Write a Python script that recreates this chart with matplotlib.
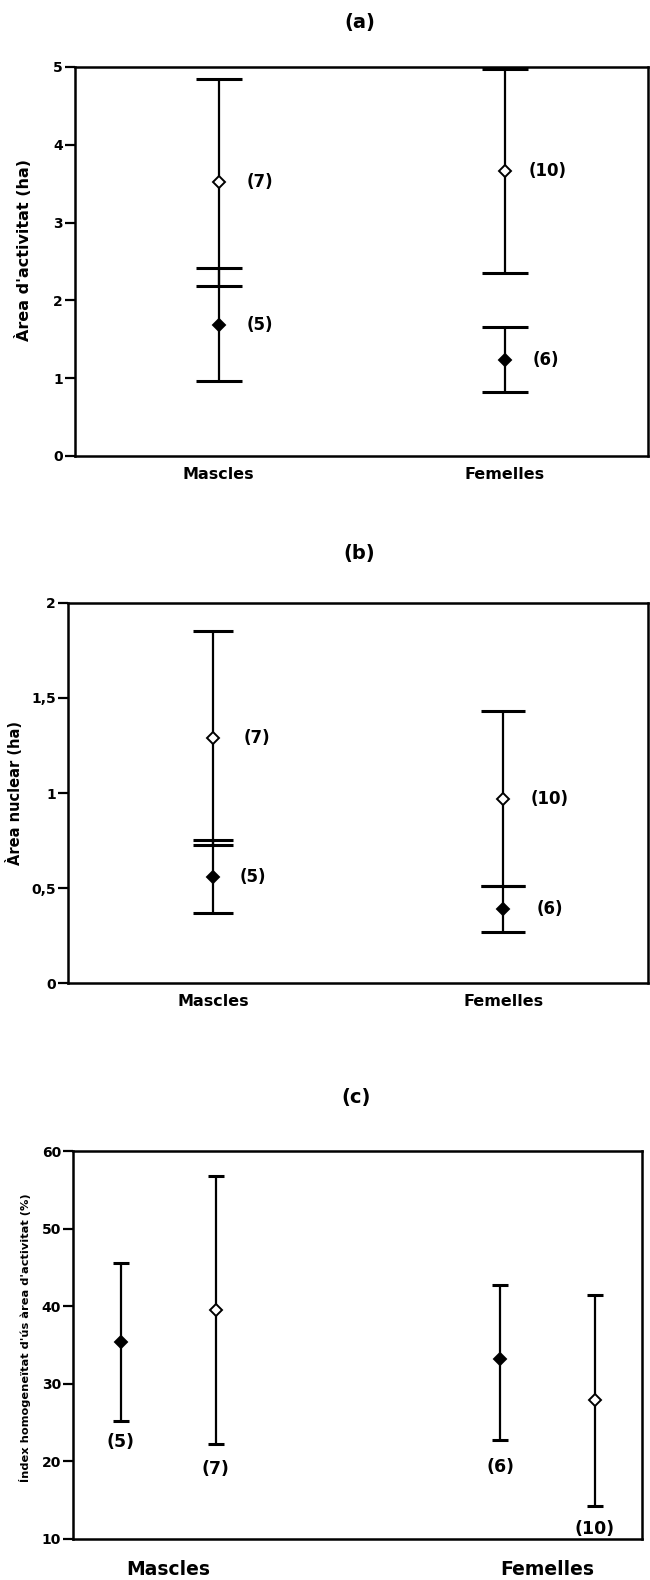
import matplotlib
matplotlib.use("Agg")
import matplotlib.pyplot as plt

plt.rcParams["font.family"] = ["DejaVu Sans"]
plt.rcParams["font.weight"] = "bold"

# (a) Àrea d'activitat (ha): per group, two series (open and filled diamonds)
a_groups = ["Mascles", "Femelles"]
a_open_mean = [3.52, 3.66]
a_open_lo = [2.18, 2.35]
a_open_hi = [4.85, 4.97]
a_open_n = ["(7)", "(10)"]
a_fill_mean = [1.68, 1.24]
a_fill_lo = [0.96, 0.82]
a_fill_hi = [2.42, 1.66]
a_fill_n = ["(5)", "(6)"]

# (b) Àrea nuclear (ha)
b_open_mean = [1.29, 0.97]
b_open_lo = [0.725, 0.51]
b_open_hi = [1.85, 1.43]
b_open_n = ["(7)", "(10)"]
b_fill_mean = [0.56, 0.39]
b_fill_lo = [0.37, 0.27]
b_fill_hi = [0.755, 0.51]
b_fill_n = ["(5)", "(6)"]

# (c) Index homogeneitat (%): Mascles filled, Mascles open, Femelles filled, Femelles open
c_mean = [35.4, 39.5, 33.2, 27.9]
c_lo = [25.2, 22.2, 22.7, 14.3]
c_hi = [45.6, 56.8, 42.7, 41.4]
c_filled = [True, False, True, False]
c_n = ["(5)", "(7)", "(6)", "(10)"]
c_label_y = [22.5, 19.0, 19.3, 11.3]

LW = 1.6


def style_axes(ax):
    for s in ax.spines.values():
        s.set_linewidth(1.8)
    ax.tick_params(axis="y", direction="out", length=7, width=1.6,
                   labelsize=10, pad=2)
    ax.tick_params(axis="x", length=0)
    for lab in ax.get_yticklabels() + ax.get_xticklabels():
        lab.set_fontweight("bold")


def draw_bar(ax, x, mean, lo, hi, filled, capsize):
    ax.errorbar([x], [mean], yerr=[[mean - lo], [hi - mean]], fmt="none",
                ecolor="black", elinewidth=LW, capsize=capsize, capthick=2.2,
                zorder=2)
    ax.plot([x], [mean], marker="D", markersize=6.5,
            markerfacecolor="black" if filled else "white",
            markeredgecolor="black", markeredgewidth=1.4, zorder=3)


def label(ax, text, x, y, dx):
    ax.annotate(text, (x, y), xytext=(dx, 0), textcoords="offset points",
                va="center", fontsize=12, fontweight="bold")


fig = plt.figure(figsize=(6.5, 15.8), dpi=100)
xs = [1, 3]

# ---- panel (a)
ax = fig.add_axes([0.116, 0.7114, 0.881, 0.2462])
off_open = [20, 17]
off_fill = [20, 20]
caps = [16.5, 16.5]
for i, x in enumerate(xs):
    draw_bar(ax, x, a_open_mean[i], a_open_lo[i], a_open_hi[i], False, caps[i])
    draw_bar(ax, x, a_fill_mean[i], a_fill_lo[i], a_fill_hi[i], True, caps[i])
    label(ax, a_open_n[i], x, a_open_mean[i], off_open[i])
    label(ax, a_fill_n[i], x, a_fill_mean[i], off_fill[i])
ax.set_xlim(0, 4)
ax.set_ylim(0, 5)
ax.set_yticks([0, 1, 2, 3, 4, 5])
ax.set_xticks(xs)
ax.set_xticklabels(a_groups, fontsize=11.5)
ax.tick_params(axis="x", pad=8)
ax.set_ylabel("Àrea d'activitat (ha)", fontsize=11.5, fontweight="bold")
ax.yaxis.set_label_coords(-0.075, 0.53)
style_axes(ax)
fig.text(0.554, 0.9855, "(a)", ha="center", va="center", fontsize=14, fontweight="bold")

# ---- panel (b)
ax = fig.add_axes([0.105, 0.3778, 0.892, 0.2406])
off_open = [22, 20]
off_fill = [19, 24]
caps = [14.5, 16]
for i, x in enumerate(xs):
    draw_bar(ax, x, b_open_mean[i], b_open_lo[i], b_open_hi[i], False, caps[i])
    draw_bar(ax, x, b_fill_mean[i], b_fill_lo[i], b_fill_hi[i], True, caps[i])
    label(ax, b_open_n[i], x, b_open_mean[i], off_open[i])
    label(ax, b_fill_n[i], x, b_fill_mean[i], off_fill[i])
ax.set_xlim(0, 4)
ax.set_ylim(0, 2)
ax.set_yticks([0, 0.5, 1, 1.5, 2])
ax.set_yticklabels(["0", "0,5", "1", "1,5", "2"])
ax.set_xticks(xs)
ax.set_xticklabels(a_groups, fontsize=11.5)
ax.tick_params(axis="x", pad=8)
ax.set_ylabel("Àrea nuclear (ha)", fontsize=10.5, fontweight="bold", labelpad=6)
style_axes(ax)
fig.text(0.553, 0.6495, "(b)", ha="center", va="center", fontsize=14, fontweight="bold")

# ---- panel (c)
ax = fig.add_axes([0.113, 0.026, 0.875, 0.2455])
cx = [1, 3, 9, 11]
for i, x in enumerate(cx):
    draw_bar(ax, x, c_mean[i], c_lo[i], c_hi[i], c_filled[i], 6)
    ax.text(x, c_label_y[i], c_n[i], ha="center", va="center",
            fontsize=12.5, fontweight="bold")
ax.set_xlim(0, 12)
ax.set_ylim(10, 60)
ax.set_yticks([10, 20, 30, 40, 50, 60])
ax.set_xticks([2, 10])
ax.set_xticklabels(a_groups, fontsize=13.5)
ax.tick_params(axis="x", pad=15)
ax.set_ylabel("Índex homogeneïtat d'ús àrea d'activitat (%)", fontsize=8.2,
              fontweight="bold")
ax.yaxis.set_label_coords(-0.075, 0.52)
style_axes(ax)
fig.text(0.548, 0.3055, "(c)", ha="center", va="center", fontsize=14, fontweight="bold")

fig.savefig("out.png", dpi=100)
